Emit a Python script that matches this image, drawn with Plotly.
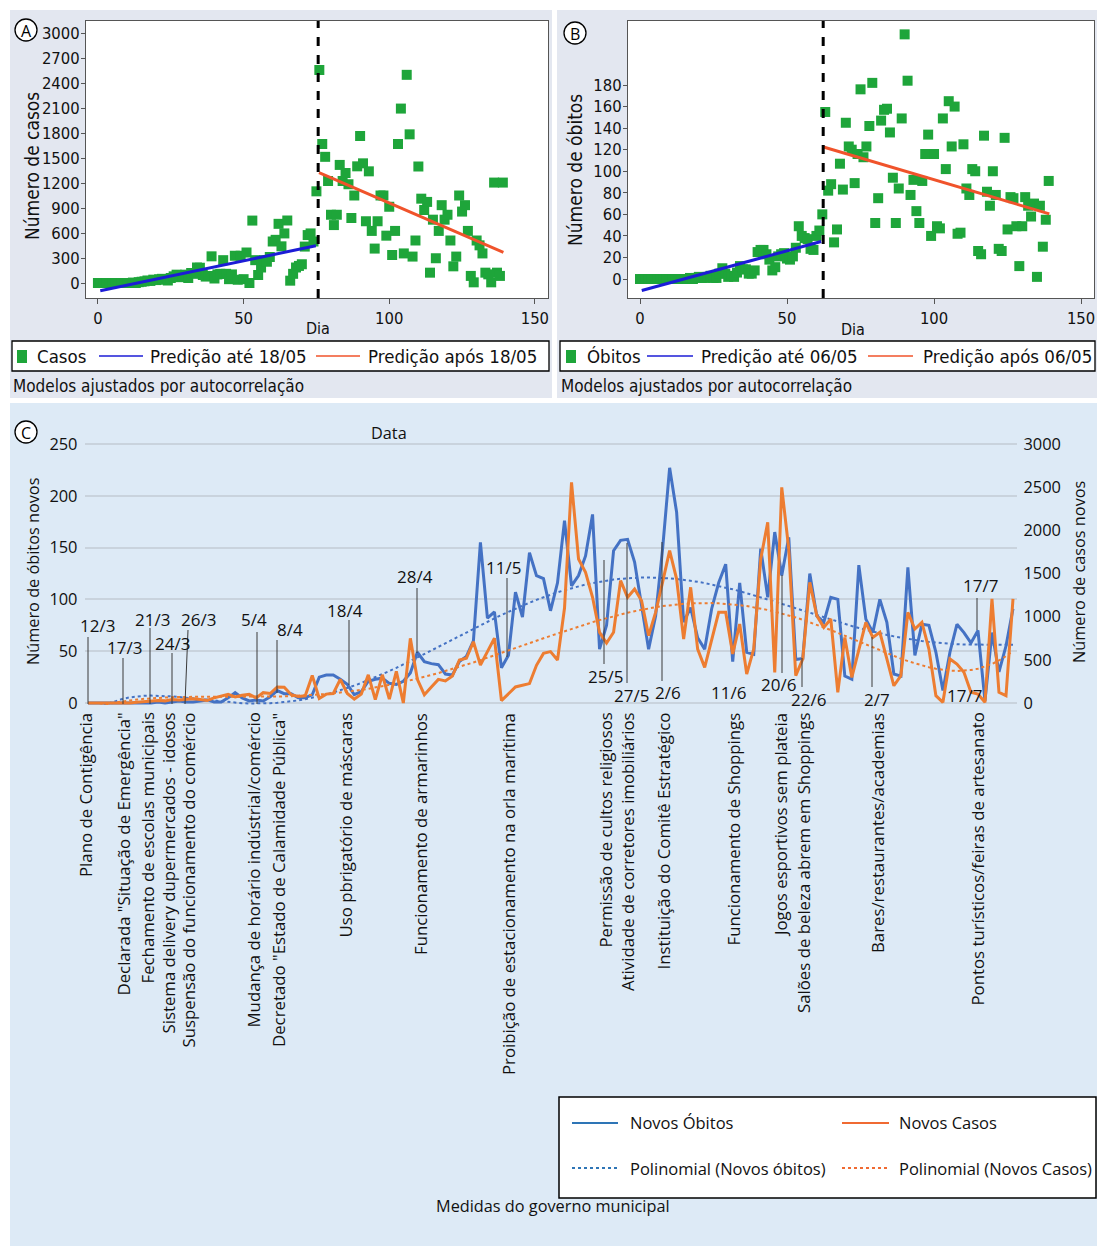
import plotly.graph_objects as go
import numpy as np

W, H = 1097, 1246

# ------------------------------------------------------------------ data
# Panel C : daily series starting 12/3 (day 0) up to 22/7 (day 132)
dias = list(range(133))
novos_obitos = [
    0, 0, 0, 0, 0, 0, 0, 0, 0,
    0, 1, 0, 1, 2, 1, 1, 2, 3, 1,
    1, 5, 10, 5, 2, 3, 2, 6, 12,
    9, 9, 5, 5, 8, 25, 27, 27, 23, 18,
    8, 11, 21, 23, 24, 19, 18, 21, 29, 49,
    40, 38, 37, 28, 27, 40, 45, 60, 155, 82,
    88, 34, 46, 107, 83, 145, 123, 120, 89, 116,
    176, 113, 123, 142, 182, 52, 75, 147, 157, 158,
    136, 94, 52, 84, 149, 227, 184, 78, 92, 63,
    52, 91, 116, 134, 40, 116, 49, 47, 149, 102,
    165, 123, 160, 42, 43, 125, 84, 78, 102, 100,
    26, 23, 133, 81, 68, 100, 78, 28, 26, 131,
    46, 76, 75, 49, 12, 49, 76, 68, 58, 70,
    2, 68, 30, 55, 91]
novos_casos = [
    0, 0, 0, 0, 0, 5, 0, 10, 15,
    20, 30, 25, 40, 35, 45, 50, 40, 30, 60,
    80, 100, 70, 90, 100, 60, 120, 110, 186,
    183, 96, 77, 84, 320, 54, 103, 110, 274, 110,
    46, 103, 327, 39, 327, 46, 366, 0, 749, 274,
    96, 186, 274, 255, 312, 498, 518, 710, 440, 595,
    750, 28, 110, 186, 205, 225, 437, 575, 595, 498,
    1100, 2556, 1668, 1514, 1224, 819, 695, 819, 1417, 1224,
    1320, 1185, 780, 1050, 1400, 1764, 1436, 741, 1340, 625,
    413, 741, 1050, 1050, 568, 915, 336, 625, 1668, 2093,
    355, 2498, 1784, 317, 510, 1398, 1012, 876, 973, 124,
    760, 297, 625, 934, 760, 819, 510, 200, 317, 1050,
    857, 934, 625, 85, 8, 510, 452, 355, 124, 104,
    8, 1205, 124, 85, 1205]

# Panels A/B : same daily data counted from day 0 (7 days before 12/3)
dias_AB = list(range(140))
zeros_antes = [0, 0, 0, 0, 0, 0, 0]
casos_AB = zeros_antes + novos_casos
obitos_AB = zeros_antes + novos_obitos

# fitted model lines
predA_ate_x, predA_ate_y = [0.8, 74.8], [-92, 447]
predA_apos_x, predA_apos_y = [75.9, 139.2], [1324, 367]
predB_ate_x, predB_ate_y = [0.6, 61.6], [-10.6, 34.8]
predB_apos_x, predB_apos_y = [62.4, 139.2], [122.5, 60.5]
corte_A, corte_B = 75.6, 62.3

# polynomial trend lines (order 6) of the daily series
tend_obitos = np.polynomial.Polynomial.fit(dias, novos_obitos, 6)(np.array(dias))
tend_casos = np.polynomial.Polynomial.fit(dias, novos_casos, 6)(np.array(dias))

eventos = [
    ("Plano de Contigência", 85),
    ('Declarada "Situação de Emergência"', 123),
    ("Fechamento de escolas municipais", 147),
    ("Sistema delivery dupermercados - idosos", 168),
    ("Suspensão do funcionamento do comércio", 188),
    ("Mudança de horário indústrial/comércio", 253),
    ('Decretado "Estado de Calamidade Pública"', 278),
    ("Uso pbrigatório de máscaras", 345),
    ("Funcionamento de armarinhos", 420),
    ("Proibição de estacionamento na orla marítima", 508),
    ("Permissão de cultos religiosos", 605),
    ("Atividade de corretores imobiliários", 627),
    ("Instituição do Comitê Estratégico", 663),
    ("Funcionamento de Shoppings", 733),
    ("Jogos esportivos sem plateia", 780),
    ("Salões de beleza abrem em Shoppings", 803),
    ("Bares/restaurantes/academias", 877),
    ("Pontos turísticos/feiras de artesanato", 977),
]

# (label, text x, text y, leader line x0, y0, x1, y1) in pixels
datas = [
    ("12/3", 97, 625, (88, 637, 88, 704)),
    ("17/3", 124, 647, (123, 658, 123, 704)),
    ("21/3", 152, 619, (150, 628, 150, 704)),
    ("24/3", 172, 643, (172, 653, 172, 704)),
    ("26/3", 198, 619, (188, 630, 185, 704)),
    ("5/4", 254, 619, (257, 632, 257, 704)),
    ("8/4", 290, 629, (277, 640, 277, 693)),
    ("18/4", 345, 610, (349, 620, 349, 685)),
    ("28/4", 415, 577, (417, 588, 417, 653)),
    ("11/5", 503, 567, (507, 578, 507, 657)),
    ("25/5", 605, 676, (604, 560, 604, 664)),
    ("27/5", 631, 695, (627, 543, 627, 683)),
    ("2/6", 668, 692, (662, 542, 662, 681)),
    ("11/6", 728, 692, None),
    ("20/6", 778, 684, (782, 575, 782, 673)),
    ("22/6", 808, 699, (802, 658, 802, 687)),
    ("2/7", 877, 699, (872, 637, 872, 687)),
    ("17/7", 980, 585, (977, 598, 977, 630)),
    ("17/7", 964, 696, None),
]

# ------------------------------------------------------------------ style
COND = "DejaVu Sans Condensed, Liberation Sans Narrow, DejaVu Sans, sans-serif"
SANS = "Open Sans, Noto Sans, DejaVu Sans, sans-serif"
GREEN = "#1ea53a"
FIT_BLUE = "#1c1cd6"
FIT_RED = "#f0532b"
BLUE = "#4472c4"
ORANGE = "#ed7d31"
BG_TOP = "#e3e7f0"
BG_C = "#ddeaf6"


def px(x):
    return x / W


def py(y):
    return 1 - y / H


shapes = []
annotations = []


def rect(x0, y0, x1, y1, fill, line_color=None, lw=0, layer="below"):
    shapes.append(dict(type="rect", xref="paper", yref="paper",
                       x0=px(x0), x1=px(x1), y0=py(y1), y1=py(y0),
                       fillcolor=fill, layer=layer,
                       line=dict(color=line_color or fill, width=lw)))


def seg(x0, y0, x1, y1, color, width=1, dash="solid", layer="above"):
    shapes.append(dict(type="line", xref="paper", yref="paper",
                       x0=px(x0), x1=px(x1), y0=py(y0), y1=py(y1), layer=layer,
                       line=dict(color=color, width=width, dash=dash)))


def text(t, x, y, size=15, family=SANS, xanchor="center", yanchor="middle",
         angle=0, color="#111111"):
    annotations.append(dict(text=t, x=px(x), y=py(y), xref="paper", yref="paper",
                            showarrow=False, xanchor=xanchor, yanchor=yanchor,
                            textangle=angle, borderpad=0,
                            font=dict(family=family, size=size, color=color)))


def circle_label(t, cx, cy, r=11):
    shapes.append(dict(type="circle", xref="paper", yref="paper",
                       x0=px(cx - r), x1=px(cx + r), y0=py(cy + r), y1=py(cy - r),
                       fillcolor="white", line=dict(color="black", width=1.3),
                       layer="above"))
    text(t, cx, cy + 1, size=16, family=SANS, color="black")


# backgrounds
rect(10, 10, 552, 398, BG_TOP)
rect(557, 10, 1097, 398, BG_TOP)
rect(10, 403, 1097, 1246, BG_C)
rect(86, 21, 548, 298, "white")
rect(628, 21, 1094, 298, "white")

circle_label("A", 26, 30)
circle_label("B", 575, 33)
circle_label("C", 26, 432)

fig = go.Figure()

# ---------------------------------------------------------------- panel A
fig.add_trace(go.Scatter(x=dias_AB, y=casos_AB, mode="markers", xaxis="x", yaxis="y",
                         marker=dict(symbol="square", size=10, color=GREEN), name="Casos"))
fig.add_trace(go.Scatter(x=predA_ate_x, y=predA_ate_y, mode="lines", xaxis="x", yaxis="y",
                         line=dict(color=FIT_BLUE, width=3), name="Predição até 18/05"))
fig.add_trace(go.Scatter(x=predA_apos_x, y=predA_apos_y, mode="lines", xaxis="x", yaxis="y",
                         line=dict(color=FIT_RED, width=3), name="Predição após 18/05"))

# ---------------------------------------------------------------- panel B
fig.add_trace(go.Scatter(x=dias_AB, y=obitos_AB, mode="markers", xaxis="x2", yaxis="y2",
                         marker=dict(symbol="square", size=10, color=GREEN), name="Óbitos"))
fig.add_trace(go.Scatter(x=predB_ate_x, y=predB_ate_y, mode="lines", xaxis="x2", yaxis="y2",
                         line=dict(color=FIT_BLUE, width=3), name="Predição até 06/05"))
fig.add_trace(go.Scatter(x=predB_apos_x, y=predB_apos_y, mode="lines", xaxis="x2", yaxis="y2",
                         line=dict(color=FIT_RED, width=3), name="Predição após 06/05"))

for xr, yr, xc in (("x", "y domain", corte_A), ("x2", "y2 domain", corte_B)):
    shapes.append(dict(type="line", xref=xr, yref=yr, x0=xc, x1=xc, y0=0, y1=1,
                       line=dict(color="black", width=3, dash="dash"), layer="above"))

# ---------------------------------------------------------------- panel C
fig.add_trace(go.Scatter(x=dias, y=tend_obitos, mode="lines", xaxis="x3", yaxis="y3",
                         line=dict(color=BLUE, width=2, dash="dot"),
                         name="Polinomial (Novos óbitos)"))
fig.add_trace(go.Scatter(x=dias, y=tend_casos, mode="lines", xaxis="x3", yaxis="y4",
                         line=dict(color=ORANGE, width=2, dash="dot"),
                         name="Polinomial (Novos Casos)"))
fig.add_trace(go.Scatter(x=dias, y=novos_obitos, mode="lines", xaxis="x3", yaxis="y3",
                         line=dict(color=BLUE, width=3), name="Novos Óbitos"))
fig.add_trace(go.Scatter(x=dias, y=novos_casos, mode="lines", xaxis="x3", yaxis="y4",
                         line=dict(color=ORANGE, width=3), name="Novos Casos"))

# ---------------------------------------------------------------- texts A/B
text("Número de casos", 32, 166, size=19, family=COND, angle=-90)
text("Número de óbitos", 575, 170, size=19, family=COND, angle=-90)
text("Dia", 318, 328, size=16, family=COND)
text("Dia", 853, 329, size=16, family=COND)

# legends A / B
for (x0, x1, items) in (
        (12, 549, [("sq", 17, "Casos", 36), ("bl", (99, 143), "Predição até 18/05", 149),
                   ("rd", (316, 360), "Predição após 18/05", 367)]),
        (560, 1095, [("sq", 566, "Óbitos", 586), ("bl", (647, 693), "Predição até 06/05", 700),
                     ("rd", (868, 913), "Predição após 06/05", 922)])):
    rect(x0, 341, x1, 371, "white", "black", 1.3, layer="above")
    for kind, pos, label, tx in items:
        if kind == "sq":
            rect(pos, 350, pos + 10, 363, GREEN, layer="above")
        else:
            seg(pos[0], 356, pos[1], 356, FIT_BLUE if kind == "bl" else FIT_RED, 1.5)
        text(label, tx, 357, size=18.5, family=COND, xanchor="left")

text("Modelos ajustados por autocorrelação", 12, 386, size=17, family=COND, xanchor="left")
text("Modelos ajustados por autocorrelação", 560, 386, size=17, family=COND, xanchor="left")

# ---------------------------------------------------------------- texts C
text("Data", 389, 433, size=16.3)
text("Número de óbitos novos", 33, 571, size=16.3, angle=-90)
text("Número de casos novos", 1079, 572, size=16.3, angle=-90)
text("Medidas do governo municipal", 553, 1206, size=16.3)

for label, xc in eventos:
    text(label, xc, 712, size=16.8, angle=-90, yanchor="top")

for label, tx, ty, ln in datas:
    text(label, tx, ty, size=17)
    if ln:
        seg(ln[0], ln[1], ln[2], ln[3], "#3a3a3a", 1)

# legend C
rect(559, 1097, 1096, 1198, "white", "black", 1.5, layer="above")
seg(572, 1123, 618, 1123, "#2e75b6", 2)
seg(842, 1123, 889, 1123, "#f06a32", 2)
seg(572, 1168, 618, 1168, "#2e75b6", 2, "dot")
seg(842, 1168, 889, 1168, "#f06a32", 2, "dot")
text("Novos Óbitos", 629, 1122, size=16.5, xanchor="left")
text("Novos Casos", 898, 1122, size=16.5, xanchor="left")
text("Polinomial (Novos óbitos)", 629, 1168, size=16.5, xanchor="left")
text("Polinomial (Novos Casos)", 898, 1168, size=16.5, xanchor="left")

# ---------------------------------------------------------------- axes
frame = dict(showline=True, mirror=True, linecolor="#555555", linewidth=1,
             showgrid=False, zeroline=False, ticks="outside", tickcolor="#555555",
             automargin=False,
             tickfont=dict(family=COND, size=16.5, color="#111111"))

layout = dict(
    width=W, height=H, margin=dict(l=0, r=0, t=0, b=0, pad=0, autoexpand=False),
    paper_bgcolor="white", plot_bgcolor="rgba(0,0,0,0)", showlegend=False,
    xaxis=dict(domain=[px(86), px(548)], anchor="y", range=[-4.1, 154.5],
               tickvals=[0, 50, 100, 150], ticklen=5, **frame),
    yaxis=dict(domain=[py(298), py(21)], anchor="x", range=[-180, 3144],
               tickvals=list(range(0, 3001, 300)), ticklen=4, ticklabelstandoff=-2, **frame),
    xaxis2=dict(domain=[px(628), px(1094)], anchor="y2", range=[-4.08, 154.4],
                tickvals=[0, 50, 100, 150], ticklen=5, **frame),
    yaxis2=dict(domain=[py(298), py(21)], anchor="x2", range=[-17.6, 239.4],
                tickvals=list(range(0, 181, 20)), ticklen=4, ticklabelstandoff=-2, **frame),
    xaxis3=dict(domain=[px(84.5), px(1016.5)], anchor="y3", range=[-0.5, 132.5],
                visible=False, automargin=False),
    yaxis3=dict(domain=[py(705.1), py(441.9)], anchor="x3", range=[-2, 252],
                tickvals=list(range(0, 251, 50)), showgrid=True, gridcolor="#c9d3dd",
                gridwidth=2, zeroline=False, showline=False, ticks="",
                ticklabelstandoff=6, automargin=False,
                tickfont=dict(family=SANS, size=16.4, color="#111111")),
    yaxis4=dict(overlaying="y3", side="right", anchor="x3", range=[-24, 3024],
                tickvals=list(range(0, 3001, 500)), showgrid=False, zeroline=False,
                showline=False, ticks="", ticklabelstandoff=6, automargin=False,
                tickfont=dict(family=SANS, size=16.4, color="#111111")),
    shapes=shapes, annotations=annotations,
)
fig.update_layout(**layout)

# pin the figure to the window's top-left corner (no default page margin)
pin = ("document.documentElement.style.margin='0';"
       "document.body.style.margin='0';document.body.style.padding='0';"
       "document.documentElement.style.overflow='hidden';"
       "document.body.style.overflow='hidden';"
       "var gd=document.getElementById('{plot_id}');"
       "gd.style.position='fixed';gd.style.top='0px';gd.style.left='0px';")
fig.write_html("out.html", post_script=pin, config={"displayModeBar": False})
